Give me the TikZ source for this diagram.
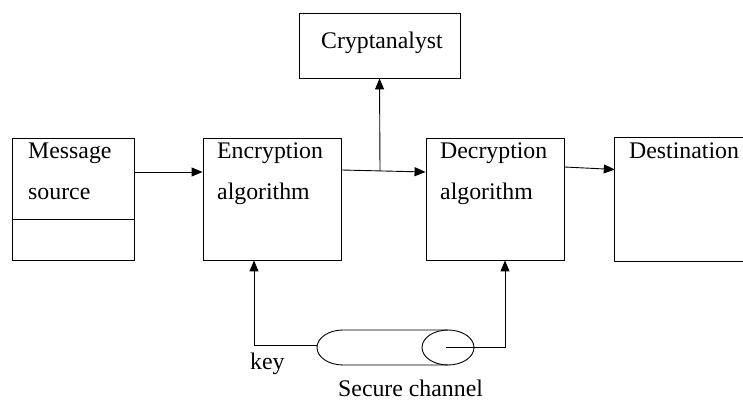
\documentclass[tikz,border=0pt]{standalone}
\usepackage{fontspec}
\setmainfont{Liberation Serif}
\usetikzlibrary{arrows.meta}
\begin{document}
\begin{tikzpicture}[x=1pt,y=1pt,
  box/.style={draw, line width=0.9pt, inner sep=0pt},
  openbox/.style={inner sep=0pt},
  lbl/.style={anchor=base west, inner sep=0pt, font=\fontsize{23.8}{28}\selectfont},
  arr/.style={line width=0.9pt, -{Triangle[length=11pt,width=9pt]}},
  ln/.style={line width=0.9pt}]
\useasboundingbox (0,0) rectangle (743,403);
% boxes
\node[box, minimum width=122pt, minimum height=122pt] (src) at (73,204) {};
\node[box, minimum width=138pt, minimum height=122pt] (enc) at (272,204) {};
\node[box, minimum width=161pt, minimum height=65pt] (crypt) at (379.5,357.5) {};
\node[box, minimum width=138pt, minimum height=122pt] (dec) at (495,204) {};
\node[openbox, minimum width=128pt, minimum height=123pt] (dst) at (679,203.5) {};
\draw[ln] (dst.north east) -- (dst.north west) -- (dst.south west) -- (dst.south east);
\draw[ln] ([yshift=41pt]src.south west) -- ([yshift=41pt]src.south east);
% texts
\node[lbl] (t1) at (28,244) {Message};
\node[lbl] (t2) at (28,203) {source};
\node[lbl] (t3) at (217,244) {Encryption};
\node[lbl] (t4) at (217,203) {algorithm};
\node[lbl] (t5) at (321,354) {Cryptanalyst};
\node[lbl] (t6) at (440,244) {Decryption};
\node[lbl] (t7) at (440,203) {algorithm};
\node[lbl] (t8) at (629,244) {Destination};
\node[lbl] (t9) at (250,33) {key};
\node[lbl] (t10) at (338,6) {Secure channel};
% secure channel cylinder
\coordinate (cylL) at (317,58);
\coordinate (cylR) at (446,56);
\draw[ln] (448,73) -- (343,73) arc[start angle=90, end angle=270, x radius=26, y radius=17.5] -- (448,38);
\draw[ln] (448,55.5) ellipse[x radius=26, y radius=17.5];
% connectors
\draw[arr] ([yshift=27pt]src.east) -- ([yshift=27pt]enc.west);
\draw[arr] ([yshift=29pt]enc.east) -- ([yshift=27pt]dec.west);
\coordinate (tap) at (380,232.5);
\draw[arr] (tap) -- (crypt.south);
\draw[arr] ([yshift=32pt]dec.east) -- ([yshift=30pt]dst.west);
\draw[arr] (cylL) -| ([xshift=-18pt]enc.south);
\draw[arr] (cylR) -| ([xshift=10pt]dec.south);
\end{tikzpicture}
\end{document}
